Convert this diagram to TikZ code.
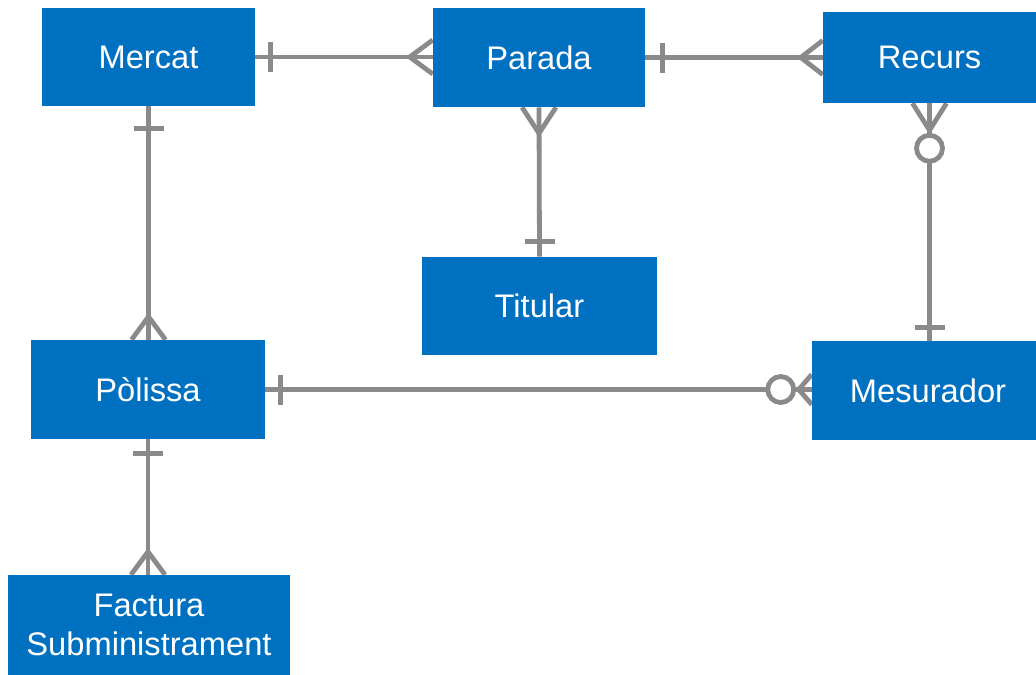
\documentclass[tikz,border=0pt]{standalone}
\usepackage{fontspec}
\setmainfont{Liberation Sans}
\usetikzlibrary{calc,backgrounds}
\definecolor{boxblue}{HTML}{0070C0}
\definecolor{linegray}{HTML}{8A8A8A}
\begin{document}
\begin{tikzpicture}[x=0.75pt,y=-0.75pt,
  entity/.style={fill=boxblue,draw=none,inner sep=0pt,text=white,align=center,
    font=\fontsize{24.5}{29}\selectfont},
  conn/.style={draw=linegray,line width=3.6pt},
  ring/.style={draw=linegray,line width=3.6pt,fill=white}]
\useasboundingbox (0,0) rectangle (1036,675);
\node[entity,minimum width=159.75pt,minimum height=73.5pt] (mercat) at (148.5,57) {Mercat};
\node[entity,minimum width=159pt,minimum height=74.25pt] (parada) at (539,57.5) {Parada};
\node[entity,minimum width=159.75pt,minimum height=68.25pt] (recurs) at (929.5,57.5) {Recurs};
\node[entity,minimum width=176.25pt,minimum height=73.5pt] (titular) at (539.5,306) {Titular};
\node[entity,minimum width=175.5pt,minimum height=74.25pt] (polissa) at (148,389.5) {Pòlissa};
\node[entity,minimum width=168pt,minimum height=74.25pt] (mesurador) at (924,390.5) {\hspace*{6pt}Mesurador};
\node[entity,minimum width=211.5pt,minimum height=75pt] (factura) at (149,625) {Factura\\Subministrament};
\begin{scope}[on background layer]
% Mercat - Parada
\draw[conn] (mercat.east) -- (mercat.east -| parada.west);
\draw[conn] ($(mercat.east)+(15,-15)$) -- ++(0,30);
\draw[conn] ($(mercat.east -| parada.west)+(0,-17)$) -- ($(mercat.east -| parada.west)+(-23,0)$) -- ($(mercat.east -| parada.west)+(0,17)$);
% Parada - Recurs
\draw[conn] (parada.east) -- (parada.east -| recurs.west);
\draw[conn] ($(parada.east)+(17,-15)$) -- ++(0,30);
\draw[conn] ($(parada.east -| recurs.west)+(0,-17)$) -- ($(parada.east -| recurs.west)+(-22,0)$) -- ($(parada.east -| recurs.west)+(0,17)$);
% Parada - Titular
\draw[conn] (parada.south) -- (titular.north);
\draw[conn] ($(parada.south)+(-17,0)$) -- ($(parada.south)+(0,26)$) -- ($(parada.south)+(17,0)$);
\draw[conn] ($(titular.north)+(-15,-15)$) -- ++(30,0);
% Recurs - Mesurador
\draw[conn] (recurs.south) -- (recurs.south |- mesurador.north);
\draw[conn] ($(recurs.south)+(-17,0)$) -- ($(recurs.south)+(0,27)$) -- ($(recurs.south)+(17,0)$);
\draw[ring] ($(recurs.south)+(0,45)$) circle[radius=13];
\draw[conn] ($(recurs.south |- mesurador.north)+(-15,-13)$) -- ++(30,0);
% Mercat - Polissa
\draw[conn] (mercat.south) -- (mercat.south |- polissa.north);
\draw[conn] ($(mercat.south)+(-15,22)$) -- ++(30,0);
\draw[conn] ($(mercat.south |- polissa.north)+(-17,0)$) -- ($(mercat.south |- polissa.north)+(0,-23)$) -- ($(mercat.south |- polissa.north)+(17,0)$);
% Polissa - Mesurador
\draw[conn] (polissa.east) -- (polissa.east -| mesurador.west);
\draw[conn] ($(polissa.east)+(15,-15)$) -- ++(0,30);
\draw[conn] ($(polissa.east -| mesurador.west)+(0,-15)$) -- ($(polissa.east -| mesurador.west)+(-13,0)$) -- ($(polissa.east -| mesurador.west)+(0,15)$);
\draw[ring] ($(polissa.east -| mesurador.west)+(-31,0)$) circle[radius=13];
% Polissa - Factura
\draw[conn] (polissa.south) -- (polissa.south |- factura.north);
\draw[conn] ($(polissa.south)+(-15,14)$) -- ++(30,0);
\draw[conn] ($(polissa.south |- factura.north)+(-17,0)$) -- ($(polissa.south |- factura.north)+(0,-23)$) -- ($(polissa.south |- factura.north)+(17,0)$);
\end{scope}
\end{tikzpicture}
\end{document}
